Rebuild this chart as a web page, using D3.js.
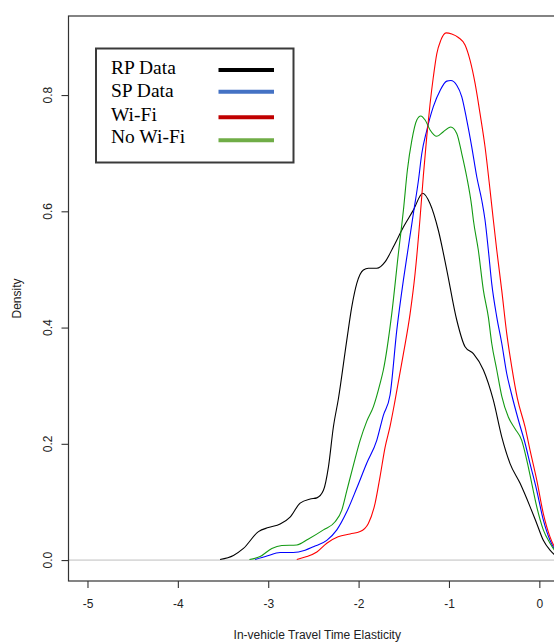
<!DOCTYPE html>
<html>
<head>
<meta charset="utf-8">
<script src="https://cdn.jsdelivr.net/npm/d3@7/dist/d3.min.js"></script>
<style>
  html, body { margin: 0; padding: 0; background: #fff; }
  svg { display: block; }
</style>
</head>
<body>
<div id="chart"></div>
<script>
// ---- data ----
const xTicks = [-5, -4, -3, -2, -1, 0];
const yTicks = [0.0, 0.2, 0.4, 0.6, 0.8];
const yTickLabels = ["0.0", "0.2", "0.4", "0.6", "0.8"];

const rpData = [[-3.533,0.001],[-3.385,0.008],[-3.274,0.020],[-3.108,0.049],[-2.998,0.056],[-2.868,0.062],[-2.758,0.074],[-2.647,0.098],[-2.536,0.105],[-2.462,0.107],[-2.389,0.120],[-2.334,0.160],[-2.279,0.229],[-2.223,0.278],[-2.131,0.378],[-2.075,0.436],[-2.020,0.476],[-1.947,0.499],[-1.892,0.502],[-1.799,0.502],[-1.707,0.513],[-1.615,0.539],[-1.504,0.573],[-1.394,0.602],[-1.290,0.631],[-1.209,0.613],[-1.117,0.567],[-1.024,0.499],[-0.914,0.413],[-0.822,0.367],[-0.730,0.355],[-0.619,0.327],[-0.509,0.275],[-0.416,0.212],[-0.324,0.166],[-0.213,0.132],[-0.103,0.092],[-0.029,0.063],[0.044,0.034],[0.118,0.017],[0.200,0.006],[0.280,0.002]];

const spData = [[-3.145,0.001],[-3.015,0.007],[-2.868,0.013],[-2.725,0.013],[-2.592,0.017],[-2.500,0.023],[-2.352,0.034],[-2.241,0.052],[-2.131,0.083],[-2.020,0.124],[-1.909,0.167],[-1.799,0.206],[-1.726,0.249],[-1.652,0.284],[-1.577,0.396],[-1.504,0.482],[-1.449,0.539],[-1.394,0.596],[-1.338,0.653],[-1.301,0.699],[-1.246,0.739],[-1.173,0.780],[-1.098,0.808],[-1.024,0.824],[-0.980,0.825],[-0.914,0.817],[-0.858,0.797],[-0.803,0.757],[-0.748,0.711],[-0.692,0.659],[-0.637,0.619],[-0.601,0.585],[-0.564,0.533],[-0.527,0.476],[-0.471,0.418],[-0.416,0.373],[-0.361,0.321],[-0.310,0.287],[-0.232,0.241],[-0.158,0.201],[-0.103,0.166],[-0.029,0.120],[0.044,0.069],[0.118,0.034],[0.200,0.013],[0.280,0.004]];

const wifiData = [[-2.684,0.001],[-2.573,0.006],[-2.462,0.014],[-2.352,0.029],[-2.227,0.040],[-2.094,0.045],[-1.983,0.049],[-1.892,0.063],[-1.817,0.098],[-1.762,0.144],[-1.707,0.194],[-1.652,0.230],[-1.596,0.275],[-1.504,0.355],[-1.430,0.424],[-1.375,0.493],[-1.320,0.588],[-1.283,0.662],[-1.246,0.728],[-1.209,0.785],[-1.173,0.831],[-1.135,0.871],[-1.091,0.894],[-1.032,0.907],[-0.969,0.905],[-0.896,0.899],[-0.822,0.886],[-0.767,0.860],[-0.711,0.820],[-0.656,0.768],[-0.601,0.711],[-0.545,0.636],[-0.509,0.585],[-0.471,0.533],[-0.416,0.464],[-0.361,0.390],[-0.305,0.332],[-0.243,0.278],[-0.158,0.229],[-0.103,0.189],[-0.029,0.138],[0.044,0.080],[0.118,0.040],[0.200,0.015],[0.280,0.004]];

const noWifiData = [[-3.208,0.001],[-3.090,0.006],[-2.960,0.020],[-2.850,0.025],[-2.684,0.026],[-2.559,0.036],[-2.389,0.052],[-2.260,0.066],[-2.186,0.086],[-2.131,0.119],[-2.058,0.163],[-1.983,0.206],[-1.909,0.239],[-1.836,0.264],[-1.762,0.304],[-1.726,0.327],[-1.633,0.424],[-1.560,0.527],[-1.504,0.602],[-1.460,0.671],[-1.411,0.722],[-1.356,0.757],[-1.312,0.764],[-1.264,0.757],[-1.209,0.740],[-1.135,0.729],[-1.062,0.737],[-0.980,0.745],[-0.914,0.734],[-0.858,0.699],[-0.803,0.659],[-0.748,0.608],[-0.730,0.585],[-0.675,0.533],[-0.619,0.464],[-0.564,0.418],[-0.527,0.373],[-0.471,0.327],[-0.416,0.282],[-0.343,0.246],[-0.269,0.226],[-0.195,0.206],[-0.139,0.172],[-0.084,0.132],[-0.029,0.092],[0.044,0.052],[0.118,0.029],[0.200,0.011],[0.280,0.003]];

const seriesNames = ["RP Data", "SP Data", "Wi-Fi", "No Wi-Fi"];
const curveColors = ["#000000", "#0000ff", "#ff0000", "#139a13"];
const legendColors = ["#000000", "#4472c4", "#c00000", "#70ad47"];
const seriesData = [rpData, spData, wifiData, noWifiData];

const xLabel = "In-vehicle Travel Time Elasticity";
const yLabel = "Density";

// ---- layout ----
const W = 554, H = 644;
const plot = { left: 68.5, right: 566, top: 16, bottom: 581 };

const svg = d3.select("#chart").append("svg")
  .attr("width", W).attr("height", H)
  .attr("viewBox", `0 0 ${W} ${H}`);

const x = d3.scaleLinear().domain([-5.21, 0.295]).range([plot.left, plot.right]);
const y = d3.scaleLinear().domain([-0.036, 0.936]).range([plot.bottom, plot.top]);

svg.append("defs").append("clipPath").attr("id", "clip")
  .append("rect")
  .attr("x", plot.left).attr("y", plot.top)
  .attr("width", plot.right - plot.left).attr("height", plot.bottom - plot.top);

// zero line
svg.append("line")
  .attr("x1", plot.left).attr("x2", plot.right)
  .attr("y1", y(0)).attr("y2", y(0))
  .attr("stroke", "#bebebe").attr("stroke-width", 1);

// curves (draw order: RP, SP, Wi-Fi, No Wi-Fi)
const line = d3.line().x(d => x(d[0])).y(d => y(d[1])).curve(d3.curveMonotoneX);
const curves = svg.append("g").attr("clip-path", "url(#clip)");
curves.selectAll("path").data(seriesData).join("path")
  .attr("d", d => line(d))
  .attr("fill", "none")
  .attr("stroke", (d, i) => curveColors[i])
  .attr("stroke-width", 1.1);

// frame
svg.append("rect")
  .attr("x", plot.left).attr("y", plot.top)
  .attr("width", plot.right - plot.left).attr("height", plot.bottom - plot.top)
  .attr("fill", "none").attr("stroke", "#333").attr("stroke-width", 1.2);

const fontSans = "Liberation Sans, Arial, sans-serif";

// x axis
const xAxis = d3.axisBottom(x).tickValues(xTicks).tickSize(7).tickPadding(11)
  .tickFormat(d3.format("d"));
const gx = svg.append("g").attr("transform", `translate(0,${plot.bottom})`).call(xAxis);
gx.select(".domain").remove();
gx.selectAll(".tick line").attr("stroke", "#333").attr("stroke-width", 1.1);
gx.selectAll(".tick text").attr("fill", "#222")
  .style("font-family", fontSans).style("font-size", "12px")
  .text(d => d < 0 ? "-" + Math.abs(d) : d);

// y axis
const yAxis = d3.axisLeft(y).tickValues(yTicks).tickSize(7).tickFormat("");
const gy = svg.append("g").attr("transform", `translate(${plot.left},0)`).call(yAxis);
gy.select(".domain").remove();
gy.selectAll(".tick line").attr("stroke", "#333").attr("stroke-width", 1.1);

svg.append("g").selectAll("text").data(yTicks).join("text")
  .attr("transform", d => `translate(51.5,${y(d)}) rotate(-90)`)
  .attr("text-anchor", "middle")
  .attr("fill", "#222")
  .style("font-family", fontSans).style("font-size", "12px")
  .text((d, i) => yTickLabels[i]);

// axis titles
svg.append("text")
  .attr("x", (plot.left + plot.right) / 2).attr("y", 639)
  .attr("text-anchor", "middle").attr("fill", "#222")
  .style("font-family", fontSans).style("font-size", "12px")
  .text(xLabel);

svg.append("text")
  .attr("transform", `translate(20.5,${(plot.top + plot.bottom) / 2}) rotate(-90)`)
  .attr("text-anchor", "middle").attr("fill", "#222")
  .style("font-family", fontSans).style("font-size", "12px")
  .text(yLabel);

// legend
const lg = svg.append("g");
lg.append("rect")
  .attr("x", 96).attr("y", 48.5).attr("width", 197.5).attr("height", 114)
  .attr("fill", "#fff").attr("stroke", "#3a3a3a").attr("stroke-width", 2);
const rowY = [74, 96.7, 120.7, 143.3];
const lineY = [70, 91.7, 117.3, 140.3];
const items = lg.selectAll("g.item").data(seriesNames).join("g").attr("class", "item");
items.append("text")
  .attr("x", 111).attr("y", (d, i) => rowY[i])
  .attr("fill", "#000")
  .style("font-family", "Liberation Serif, Times New Roman, serif")
  .style("font-size", "19.5px")
  .text(d => d);
items.append("line")
  .attr("x1", 218.5).attr("x2", 274)
  .attr("y1", (d, i) => lineY[i]).attr("y2", (d, i) => lineY[i])
  .attr("stroke", (d, i) => legendColors[i]).attr("stroke-width", 4);
</script>
</body>
</html>
